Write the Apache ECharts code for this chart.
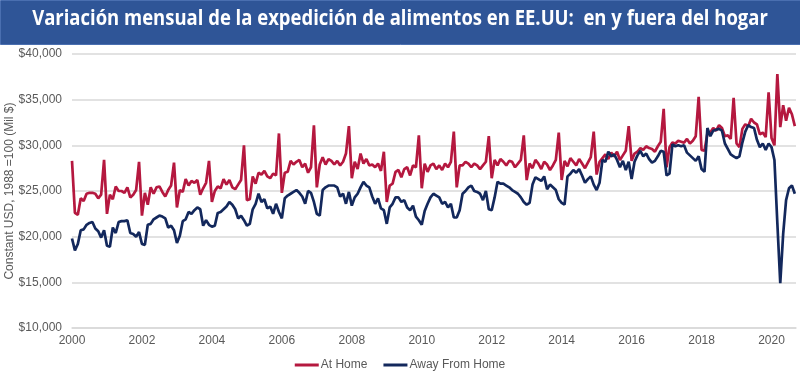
<!DOCTYPE html>
<html>
<head>
<meta charset="utf-8">
<script src="https://cdn.jsdelivr.net/npm/echarts@6/dist/echarts.min.js"></script>
<style>
  html, body { margin: 0; padding: 0; background: #fff; }
  #chart { width: 800px; height: 376px; }
</style>
</head>
<body>
<div id="chart"></div>
<script>
// monthly values, Jan 2000 .. Sep 2020 (constant USD, mil $)
const startYear = 2000;
const atHome = [
  28300, 22600, 22400, 24200, 23900, 24700, 24800, 24800, 24700, 24200, 24600, 28400,
  22500, 24600, 24100, 25500, 25000, 25000, 24800, 25400, 24300, 24600, 25100, 28200,
  22300, 24800, 23500, 25400, 24700, 25400, 25500, 24900, 24400, 25100, 25600, 28100,
  23200, 25100, 24900, 26300, 25600, 26100, 25900, 26200, 24600, 25300, 25900, 28300,
  23800, 25000, 25500, 25300, 26300, 25700, 26200, 25400, 25200, 25700, 26200, 30000,
  24000, 24100, 26600, 25800, 27000, 26800, 27200, 26600, 26400, 26900, 26700, 31300,
  24800, 27000, 27100, 28300, 27900, 28200, 28400, 27600, 28000, 27000, 27600, 32200,
  25400, 27900, 28700, 27900, 28500, 28300, 27900, 28300, 27800, 28200, 29100, 32100,
  26400, 28200, 27400, 29100, 28000, 28500, 27800, 27900, 27600, 28000, 27200, 29300,
  23800, 25600, 25800, 27100, 27300, 26500, 27400, 27600, 26700, 27800, 27600, 31100,
  25300, 28000, 27100, 27800, 28000, 27400, 27800, 27300, 28000, 27600, 28200, 31500,
  25400, 27800, 27800, 28200, 28000, 27600, 28000, 27800, 27400, 27800, 28200, 31000,
  26400, 28400, 27800, 28500, 28200, 27800, 28300, 28200, 27600, 28000, 28400, 31100,
  26200, 28000, 27500, 28400, 28000, 27400, 28200, 27900, 27300, 27800, 28400, 31400,
  26200, 28300, 27700, 28600, 28200, 27800, 28500, 28000, 27500, 28100, 28700, 31500,
  26800, 28200, 28600, 29000, 28500, 29200, 28800, 29300, 28400, 28900, 29400, 32100,
  28300, 29100, 29300, 29700, 29500, 29900, 29700, 29600, 29300, 29900, 30400, 34000,
  27600, 29800, 30300, 30200, 30500, 30400, 30300, 30700, 30200, 30500, 31000, 35300,
  29500, 29400, 31300, 31400, 31900, 31600, 32200, 31900, 31000, 31100, 30700, 35200,
  30200, 29800, 31800, 32300, 32100, 32900, 32500, 32300, 31200, 31400, 30900, 35800,
  30800, 30000, 37800, 32000, 34400, 32700, 34100, 33400, 32100
];
const awayFromHome = [
  19800, 18500, 19200, 20700, 20800, 21300, 21500, 21600, 20900, 20600, 19900, 20700,
  19000, 18900, 21000, 20400, 21600, 21700, 21700, 21800, 20400, 20300, 20000, 20500,
  19200, 19100, 21300, 21400, 21900, 22100, 22300, 22200, 22000, 21000, 21200, 20700,
  19300, 20100, 21700, 21900, 22700, 22500, 22900, 23200, 23000, 21200, 21800, 21300,
  21100, 21200, 22600, 22700, 23000, 23300, 23800, 23500, 23000, 22000, 22300, 21800,
  21200, 21400, 23000, 23600, 24700, 23800, 24100, 23100, 23300, 22500, 23600, 22700,
  22000, 24200, 24500, 24700, 24900, 25100, 24800, 24400, 23600, 25000, 24800, 23800,
  22500, 22300, 25100, 25400, 25600, 25600, 25600, 25400, 24400, 24700, 23600, 24900,
  23400, 24300, 24700, 25400, 26000, 25600, 25400, 24400, 23600, 24200, 23100, 22900,
  21400, 23200, 23600, 24300, 24300, 23800, 24000, 23200, 22900, 23400, 22200, 21800,
  21300, 22800, 23600, 24300, 24700, 24500, 24300, 23600, 23800, 23200, 23600, 22100,
  22100, 22900, 24700, 25000, 25400, 25600, 25000, 24900, 24700, 24000, 25000, 23000,
  22900, 24300, 26000, 25800, 25800, 25600, 25400, 25100, 24900, 24700, 24300, 23800,
  23500, 23700, 25700, 26500, 26300, 26100, 26600, 25200, 25700, 25400, 25100, 24100,
  23700, 23500, 26600, 26900, 27300, 27000, 27400, 26700, 25900, 26300, 26600, 25700,
  25100, 25900, 28400, 28200, 29300, 28800, 29000, 28400, 27600, 28300, 27300, 28200,
  26300, 28200, 28900, 29400, 28800, 29100, 28500, 28100, 28300, 28800, 29400, 29300,
  26700, 26900, 30100, 29900, 30000, 29900, 30000, 29200, 28900, 28600, 28300, 28800,
  27400, 27100, 31900, 31000, 31600, 31700, 31800, 31600, 30200, 29600, 29000, 28800,
  28600, 28800, 30300, 31500, 32200, 32000, 31900, 30600, 29800, 30200, 29500, 30200,
  29800, 28400, 21500, 14900, 20300, 24000, 25300, 25600, 24700
];
const seriesNames = ['At Home', 'Away From Home'];
const yearTicks = [2000, 2002, 2004, 2006, 2008, 2010, 2012, 2014, 2016, 2018, 2020];

function toPoints(values) {
  return values.map((v, i) => [startYear + i / 12, v]);
}

let chart = echarts.init(document.getElementById('chart'));
const option = {
  animation: false,
  graphic: [
    {
      type: 'rect',
      left: 0, top: 0,
      shape: {width: 800, height: 44},
      style: {fill: '#2f5597', stroke: '#4a6fb0', lineWidth: 1}
    },
    {
      type: 'text',
      left: 'center', top: 9,
      scaleX: 0.88,
      style: {
        text: 'Variación mensual de la expedición de alimentos en EE.UU:  en y fuera del hogar',
        fill: '#fff',
        font: 'bold 21px "Open Sans", sans-serif'
      }
    }
  ],
  grid: {left: 72, right: 4, top: 54, bottom: 48, outerBoundsMode: 'none'},
  legend: {
    bottom: 0,
    left: 'center',
    icon: 'rect',
    itemWidth: 24,
    itemHeight: 3,
    itemGap: 16,
    textStyle: {color: '#595959', fontSize: 12, fontFamily: 'Liberation Sans', padding: [0, 0, 0, -3]},
    data: seriesNames
  },
  xAxis: {
    type: 'value',
    min: 2000,
    max: 2020.7,
    interval: 2,
    splitLine: {show: false},
    axisTick: {show: false},
    axisLine: {lineStyle: {color: '#d9d9d9', width: 1.5}},
    axisLabel: {
      color: '#595959', fontSize: 12, fontFamily: 'Liberation Sans', margin: 7,
      showMaxLabel: false,
      formatter: v => yearTicks.includes(v) ? String(v) : ''
    }
  },
  yAxis: {
    type: 'value',
    min: 10000,
    max: 40000,
    interval: 5000,
    name: 'Constant USD, 1988 =100 (Mil $)',
    nameLocation: 'middle',
    nameGap: 56,
    nameMoveOverlap: false,
    nameTextStyle: {color: '#595959', fontSize: 12, fontFamily: 'Liberation Sans'},
    axisLine: {show: false},
    axisTick: {show: false},
    splitLine: {lineStyle: {color: '#d9d9d9', width: 1.5}},
    axisLabel: {
      color: '#595959', fontSize: 12, fontFamily: 'Liberation Sans', margin: 10,
      formatter: v => '$' + v.toLocaleString('en-US')
    }
  },
  series: [
    {
      name: seriesNames[0],
      type: 'line',
      data: toPoints(atHome),
      symbol: 'none',
      lineStyle: {width: 2.7, color: '#b5183f'},
      itemStyle: {color: '#b5183f'}
    },
    {
      name: seriesNames[1],
      type: 'line',
      data: toPoints(awayFromHome),
      symbol: 'none',
      lineStyle: {width: 2.7, color: '#13285c'},
      itemStyle: {color: '#13285c'}
    }
  ]
};
chart.setOption(option);
window.addEventListener('resize', function () {
  chart.resize();
});
</script>
</body>
</html>
